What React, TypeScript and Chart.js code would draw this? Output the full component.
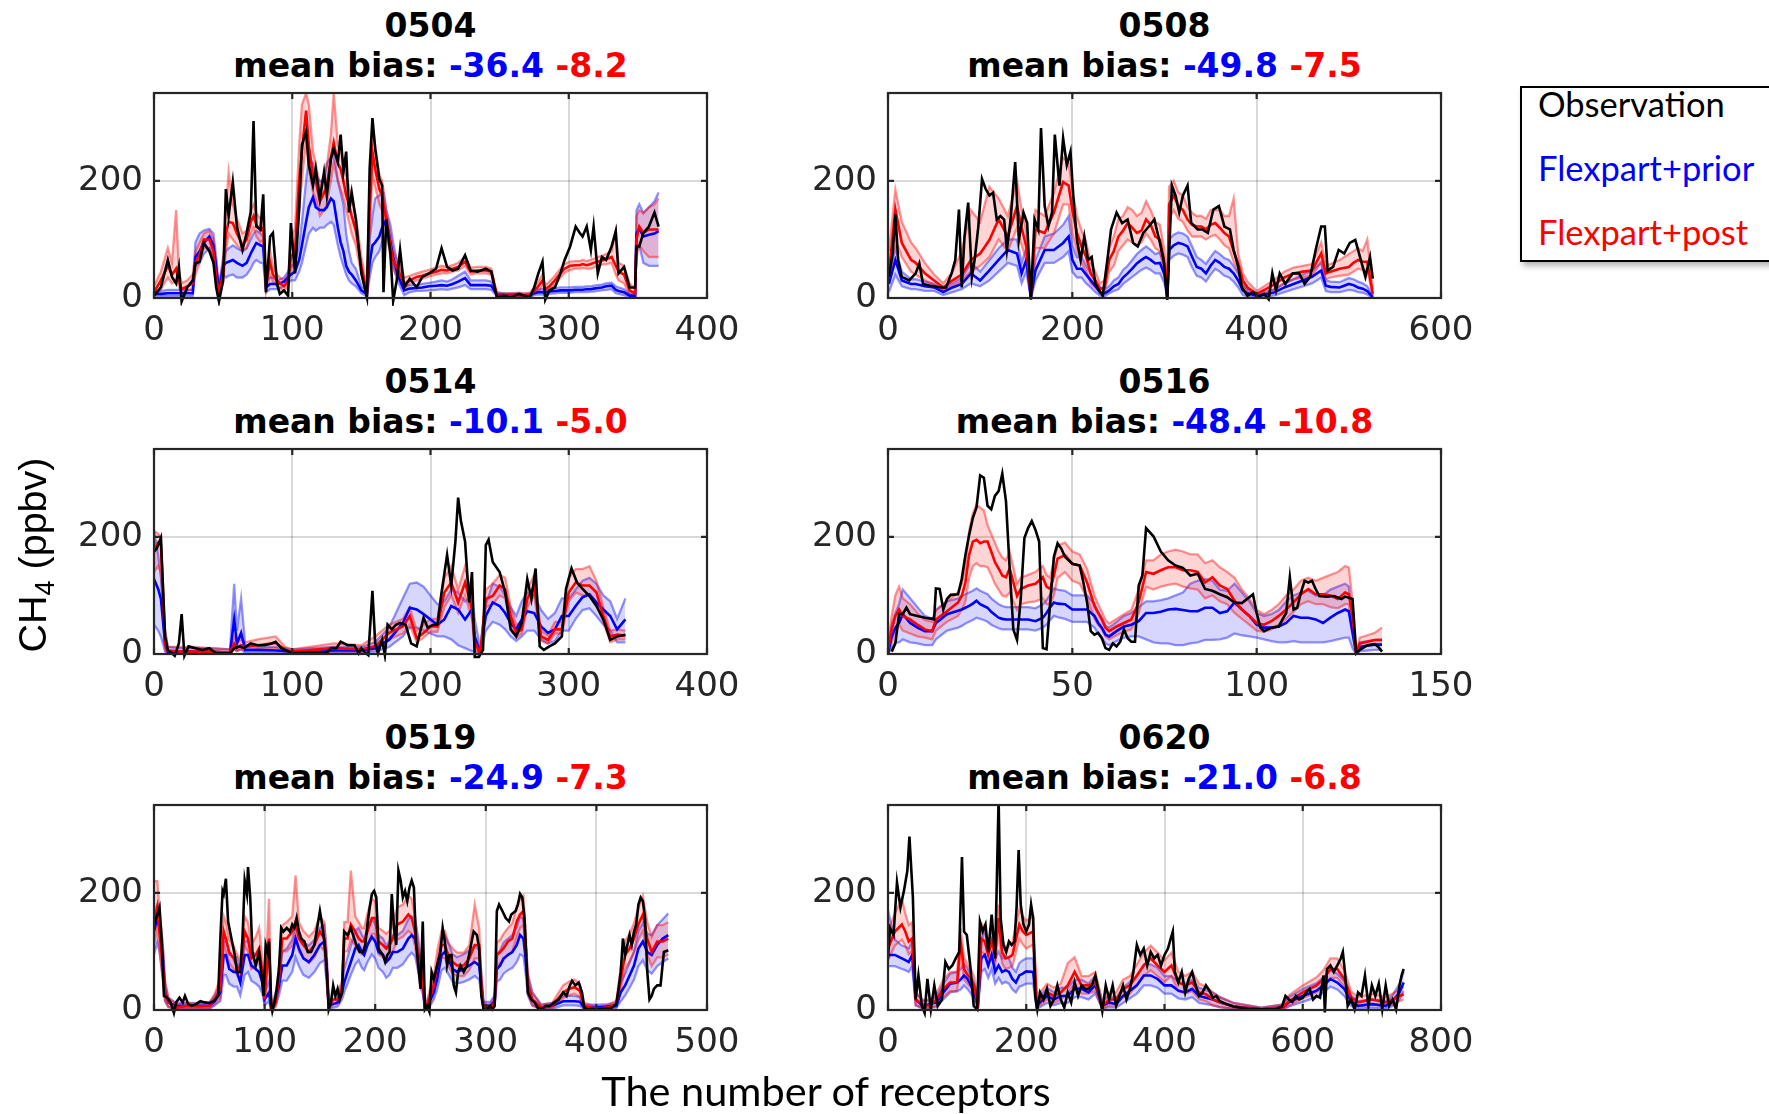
import React, { useEffect, useRef } from 'react';
import { Chart, registerables } from 'chart.js';

Chart.register(...registerables);

const Y_MAX = 350;
const Y_TICKS = [0, 200];

// ---------------- 0504 (observation shares model x) ----------------
const x0504 = [0,5,10,13,16,18,20,24,28,30,33,36,40,43,45,47,50,52,54,57,60,64,67,70,72,74,77,79,81,84,86,89,91,94,97,99,102,105,107,110,112,115,117,120,123,125,128,130,133,135,137,139,141,143,146,150,154,156,158,160,163,165,166,168,171,173,176,178,181,185,190,194,199,204,208,212,216,220,225,229,234,240,244,248,253,258,264,268,272,275,278,281,283,286,290,294,297,301,305,308,310,313,316,318,321,324,327,331,334,336,340,344,348,349,351,354,358,362,365];
const obs0504 = [4,18,65,36,25,53,-6,18,30,59,62,94,80,60,18,-6,30,186,140,198,122,82,111,146,302,122,117,177,10,105,111,24,7,13,4,128,42,151,261,284,227,192,221,169,215,175,238,255,232,279,215,250,146,180,134,42,1,221,307,255,203,192,10,134,76,-5,36,82,18,33,18,36,42,50,85,53,47,50,73,47,45,50,45,1,4,1,7,4,2,18,42,62,-3,13,18,42,65,88,122,111,105,122,82,122,42,70,65,88,114,42,53,18,18,88,88,111,122,146,122];
const prior0504 = [7,7,8,8,8,8,8,8,8,70,80,94,105,90,53,10,55,60,62,65,60,55,60,76,85,94,90,88,18,24,24,24,25,28,35,40,45,65,90,130,155,172,155,150,150,155,170,165,120,95,80,55,45,40,30,13,7,60,90,95,105,120,125,134,95,70,42,30,13,16,17,18,20,21,22,21,24,28,34,22,22,22,21,6,5,5,5,4,5,8,10,10,10,11,12,13,13,13,14,14,14,15,15,16,17,18,20,21,14,12,10,4,4,110,119,105,108,110,114];
const priorLo0504 = [3,3,3,3,3,3,3,3,3,55,60,75,85,70,40,5,40,35,38,40,35,35,40,50,60,65,60,60,10,15,15,15,17,20,25,30,30,45,60,90,110,120,115,120,120,125,130,125,90,70,55,40,30,25,20,8,3,35,60,70,80,95,100,110,80,55,30,20,5,10,12,12,13,14,15,14,16,18,22,15,15,15,14,3,2,2,2,2,2,5,6,6,6,7,8,9,9,9,10,10,10,10,11,11,12,13,14,15,8,7,5,2,2,80,90,60,55,55,55];
const priorHi0504 = [12,12,14,14,14,14,14,14,14,95,110,115,118,110,70,20,70,80,85,90,85,80,85,100,110,115,110,105,30,35,35,30,32,35,45,55,60,90,130,200,240,230,210,200,200,230,240,250,200,180,160,110,80,60,50,20,12,100,140,170,175,180,180,150,125,95,60,45,20,22,22,24,26,28,30,28,32,38,45,30,30,30,28,10,8,8,8,7,8,12,15,15,15,16,17,18,18,18,19,19,19,20,20,21,22,23,25,26,20,18,15,8,8,150,160,145,155,165,180];
const post0504 = [10,30,55,40,50,30,15,20,25,60,75,100,100,80,35,10,40,110,130,128,110,90,100,130,140,125,115,120,24,60,40,30,25,20,30,70,80,200,250,320,260,210,200,165,180,190,240,265,230,220,200,175,160,140,115,55,8,150,250,220,186,175,160,134,90,65,50,40,24,30,36,38,42,45,48,47,50,53,62,45,47,47,45,4,4,4,5,4,5,12,20,30,15,20,30,42,50,55,56,56,58,56,58,60,62,64,66,70,55,45,40,13,8,100,122,111,117,117,117];
const postLo0504 = [5,15,35,25,30,20,8,12,15,40,60,85,85,65,20,3,25,80,110,100,90,80,85,110,120,105,95,100,10,40,28,20,17,12,20,50,60,150,200,270,220,180,170,140,150,160,200,230,200,185,170,150,130,110,90,40,3,110,210,190,160,150,140,115,70,50,35,30,15,25,30,33,37,40,42,42,45,47,55,40,42,42,40,2,2,2,2,2,2,8,12,20,8,15,22,35,43,48,50,50,51,50,50,52,55,57,58,60,40,30,25,5,3,70,90,80,70,70,70];
const postHi0504 = [20,45,85,60,150,45,25,30,40,80,95,110,115,100,50,20,60,150,215,160,135,110,115,150,160,145,135,140,35,80,55,40,35,30,40,100,120,260,330,350,330,250,230,190,210,225,280,350,260,250,235,210,190,170,140,70,15,200,290,260,210,200,185,150,110,80,65,55,35,38,42,45,48,52,55,53,56,60,70,52,53,53,50,8,8,8,9,8,9,18,28,40,22,28,38,50,58,62,63,63,65,63,65,67,70,72,75,80,115,60,55,25,15,140,150,145,155,160,170];

// ---------------- 0508 ----------------
const obs0508 = [[1,36],[5,76],[8,143],[11,65],[15,36],[23,30],[30,42],[34,59],[38,24],[46,21],[58,18],[63,18],[69,42],[73,65],[77,151],[80,18],[83,105],[87,163],[91,36],[94,65],[98,122],[102,203],[106,186],[110,175],[114,180],[118,134],[122,140],[126,134],[129,82],[133,134],[138,232],[142,99],[147,146],[151,128],[155,-3],[159,134],[163,117],[166,290],[170,157],[174,122],[178,146],[181,279],[186,192],[190,273],[194,227],[198,250],[201,175],[205,99],[209,65],[213,105],[217,65],[221,70],[225,24],[229,13],[233,4],[238,65],[242,117],[248,146],[254,128],[260,134],[266,94],[271,88],[277,111],[283,122],[289,134],[295,94],[299,65],[303,-3],[308,192],[312,175],[316,146],[320,175],[325,192],[329,128],[336,117],[341,117],[347,111],[353,151],[359,157],[365,122],[371,117],[375,82],[380,53],[384,18],[390,4],[396,10],[402,2],[408,7],[413,-2],[417,42],[421,13],[425,42],[431,24],[439,42],[446,42],[452,24],[458,36],[464,82],[470,122],[474,122],[477,47],[483,53],[489,82],[495,76],[501,94],[507,99],[513,65],[518,36],[523,70],[526,33]];
const x0508 = [1,8,15,25,30,40,50,60,70,80,90,100,110,120,130,140,145,150,155,160,170,180,190,196,200,205,210,215,220,225,230,235,240,245,250,255,260,265,270,275,280,285,290,295,300,303,305,310,315,320,325,330,335,340,345,350,355,360,365,370,375,380,385,390,400,410,420,430,440,450,460,470,475,480,490,500,505,510,515,520,526];
const prior0508 = [24,65,30,24,24,20,18,10,18,24,42,30,47,65,82,76,42,65,1,47,82,82,94,105,65,50,50,40,30,20,10,8,13,20,24,35,42,50,59,65,70,65,59,60,40,1,82,90,94,92,88,70,53,50,42,55,65,60,53,50,42,30,13,8,4,6,10,18,24,30,36,47,21,19,18,24,22,18,16,12,1];
const priorLo0508 = [10,40,20,15,15,12,12,5,10,15,25,20,30,45,60,55,25,45,0,30,60,60,70,80,45,35,35,25,18,10,4,3,8,12,15,24,30,36,42,48,52,48,42,42,25,0,65,72,76,74,70,52,38,35,28,40,50,45,38,35,28,18,5,3,1,2,5,10,15,20,25,35,12,10,10,14,13,10,9,6,0];
const priorHi0508 = [40,85,45,32,32,28,24,15,25,35,60,45,65,85,100,100,60,85,5,65,105,110,125,140,90,70,70,55,42,30,18,15,20,30,35,48,55,65,75,82,88,82,75,78,55,3,100,108,112,110,105,88,70,65,58,70,80,75,68,65,55,42,22,14,8,10,15,25,32,40,47,60,30,28,27,34,32,28,25,20,4];
const post0508 = [42,151,94,65,60,42,30,18,30,40,65,76,99,134,105,157,120,88,5,117,111,146,198,192,150,111,88,70,42,30,15,18,65,80,105,115,128,120,111,115,134,125,105,100,60,1,160,175,157,150,134,125,122,122,117,125,128,120,111,105,80,59,30,18,7,15,24,35,42,45,47,76,42,45,50,53,60,65,62,62,7];
const postLo0508 = [25,100,70,45,40,30,22,12,20,30,45,55,70,100,80,120,90,65,0,85,85,110,160,160,110,80,60,45,25,18,8,10,45,55,80,90,100,95,90,95,110,100,85,80,45,0,135,150,135,130,115,105,105,105,100,105,108,100,90,85,62,45,20,10,3,8,15,25,32,35,38,62,32,35,38,40,45,50,48,48,3];
const postHi0508 = [80,185,130,95,85,60,40,25,45,80,150,130,190,170,140,200,150,115,10,150,140,180,240,230,185,140,115,95,60,45,25,30,85,105,135,140,155,150,140,145,165,150,130,125,80,3,190,200,180,175,155,145,140,140,135,150,150,150,140,140,170,75,42,28,12,22,32,45,52,55,58,95,55,58,65,75,80,85,80,100,15];

// ---------------- 0514 ----------------
const obs0514 = [[0,175],[2,180],[5,198],[8,30],[10,7],[15,-3],[18,18],[20,68],[22,-3],[25,13],[30,10],[35,7],[40,10],[45,1],[50,1],[55,1],[58,10],[62,13],[65,10],[70,18],[75,15],[80,15],[85,18],[88,21],[92,10],[95,7],[100,1],[110,2],[120,2],[125,2],[128,10],[132,10],[135,21],[140,15],[145,15],[148,1],[150,10],[152,4],[155,-2],[158,108],[160,18],[162,1],[165,24],[167,-2],[169,50],[172,42],[175,50],[178,53],[182,50],[186,18],[190,13],[195,62],[198,45],[202,50],[205,50],[208,105],[212,169],[215,117],[218,192],[220,267],[222,227],[225,192],[228,88],[230,140],[232,-5],[235,-5],[238,7],[240,186],[242,195],[245,157],[250,140],[254,105],[258,42],[262,30],[266,53],[270,128],[273,94],[276,146],[279,13],[282,7],[286,13],[290,18],[295,30],[298,111],[302,146],[306,122],[310,111],[315,99],[320,82],[325,59],[330,24],[335,30],[341,33]];
const x0514 = [0,3,5,8,10,20,30,40,55,58,60,63,66,75,88,95,100,130,150,160,170,180,185,190,195,200,205,210,215,220,225,230,232,236,240,245,250,254,258,262,266,270,275,280,285,290,295,300,305,310,315,320,325,330,335,341];
const prior0514 = [128,111,94,18,4,4,4,4,2,59,18,36,7,7,6,5,4,6,6,10,24,53,79,76,68,59,50,59,82,76,59,76,30,2,65,88,82,70,53,42,59,73,70,47,36,42,65,65,82,97,102,88,76,65,42,59];
const priorLo0514 = [50,40,30,5,1,1,1,1,0,10,5,8,2,3,2,2,1,2,2,4,12,30,45,45,40,35,30,30,25,15,10,5,5,0,40,55,50,42,30,22,30,40,40,25,18,22,40,40,60,75,78,65,50,40,20,20];
const priorHi0514 = [210,170,130,40,12,10,10,10,8,120,40,95,15,12,12,10,8,12,12,20,45,95,120,122,115,100,85,90,110,105,90,100,60,10,85,120,115,100,80,65,90,105,100,75,60,70,95,95,110,125,130,120,100,90,60,95];
const post0514 = [175,190,186,18,6,4,4,4,3,18,10,15,12,15,19,7,4,10,8,13,36,47,65,27,36,47,47,105,122,88,122,76,20,1,94,99,117,111,65,36,42,94,117,30,24,42,42,105,122,117,117,105,65,30,33,31];
const postLo0514 = [140,150,140,5,2,1,1,1,1,8,5,8,5,8,10,3,1,5,4,8,25,35,50,20,28,38,38,80,100,70,100,60,10,0,80,85,100,95,55,28,35,80,100,22,18,35,35,90,105,100,100,88,55,20,25,25];
const postHi0514 = [210,205,200,40,12,12,12,10,8,30,20,25,20,25,30,12,8,18,15,30,50,60,80,40,50,60,60,130,150,110,150,95,30,5,110,120,135,130,80,50,55,110,135,40,32,55,55,130,145,145,150,125,80,40,42,40];

// ---------------- 0516 ----------------
const obs0516 = [[1,4],[2,18],[3,68],[4,68],[5,79],[6,68],[8,65],[10,62],[12,60],[12.5,59],[13,112],[14,111],[15,76],[16,94],[17,101],[19,102],[20,128],[21,169],[22,203],[23,232],[24,250],[25,305],[26,301],[27,253],[28,247],[29,270],[30,278],[31,308],[32,261],[33,146],[34,42],[35,24],[36,94],[37,198],[38,215],[39,227],[40,212],[41,192],[42,10],[43,8],[44,88],[45,166],[46,189],[47,180],[48,166],[50,154],[52,151],[53,122],[54,88],[55,39],[56,33],[57,36],[58,27],[59,10],[60,7],[61,18],[62,13],[63,21],[64,42],[65,27],[66,21],[67,21],[68,117],[69,134],[70,215],[72,201],[74,175],[76,160],[78,151],[80,147],[82,134],[84,137],[86,111],[88,108],[90,102],[92,97],[94,88],[96,87],[98,97],[99,102],[100,70],[101,45],[102,39],[104,45],[106,47],[107,59],[108,70],[109,131],[110,76],[111,79],[112,105],[113,125],[114,122],[115,125],[116,111],[117,99],[119,98],[121,99],[123,94],[124,98],[126,94],[127,1],[128,7],[130,15],[132,17],[133,12],[134,4]];
const x0516 = [0,1,2,3,4,6,8,10,12,13,16,19,20,21,22,23,24,25,26,27,28,29,30,31,32,33,35,36,38,40,42,43,44,45,46,48,50,52,54,56,57,58,59,60,62,64,66,68,70,72,74,76,78,80,82,84,86,88,90,92,94,96,98,100,102,104,106,108,110,112,114,116,118,120,122,124,125,126,127,128,130,132,134];
const prior0516 = [1,30,45,53,68,53,45,39,39,53,68,74,76,79,82,86,91,85,82,79,72,67,62,60,59,59,59,59,59,56,62,70,80,88,86,85,76,76,76,65,53,45,33,30,39,47,50,56,70,70,72,76,77,75,73,73,79,79,70,73,88,76,65,50,45,45,47,53,65,62,62,59,53,62,70,76,73,36,1,12,14,16,16];
const priorLo0516 = [0,10,20,20,25,20,18,15,15,25,40,45,48,52,55,58,62,60,58,55,50,47,44,42,42,42,42,42,42,40,45,50,58,65,63,60,55,55,55,45,35,28,18,15,22,28,30,30,25,20,18,18,15,15,18,20,24,24,25,28,35,32,30,28,25,22,20,20,22,20,20,20,20,22,25,28,28,10,0,5,6,7,7];
const priorHi0516 = [5,50,70,85,110,95,80,65,60,75,90,95,100,102,105,108,112,108,105,102,95,90,85,82,80,80,80,80,80,78,85,92,102,112,110,108,100,100,100,85,72,62,48,45,55,65,70,80,90,90,92,95,100,105,120,125,128,125,110,108,120,105,90,70,65,68,75,90,100,105,108,100,100,110,115,120,115,60,5,20,22,24,25];
const post0516 = [7,42,65,76,65,59,50,42,39,59,73,88,99,122,169,192,195,189,192,192,175,157,146,134,131,146,99,111,117,120,131,115,111,134,163,169,154,151,122,82,70,59,45,39,47,53,59,88,140,137,143,148,148,143,143,140,122,131,117,111,91,76,65,53,50,56,65,76,88,102,111,102,102,100,94,105,102,65,1,18,21,24,24];
const postLo0516 = [0,20,40,50,40,35,30,28,25,40,55,65,75,90,130,150,155,150,150,148,135,120,110,100,98,105,75,85,88,90,95,85,85,100,130,140,125,120,95,60,50,42,30,25,32,38,42,70,115,110,115,118,120,115,112,110,95,100,90,85,70,60,50,40,38,42,50,60,72,85,90,85,85,80,78,85,85,40,0,10,14,16,16];
const postHi0516 = [15,65,100,115,95,85,70,58,55,75,90,105,120,150,210,240,255,250,245,220,205,190,175,165,160,175,120,130,135,140,150,135,130,160,185,190,175,170,145,100,85,72,58,52,60,68,75,110,160,160,170,175,178,175,170,170,155,160,148,140,130,110,95,75,68,75,85,100,110,125,130,125,130,135,140,150,148,90,5,28,32,36,45];

// ---------------- 0519 ----------------
const obs0519 = [[0,146],[3,163],[5,175],[7,117],[9,24],[12,21],[15,13],[18,-5],[20,13],[23,21],[26,13],[28,24],[31,10],[34,7],[38,10],[42,15],[46,13],[50,12],[54,15],[58,24],[60,122],[62,203],[63,198],[65,224],[67,151],[70,122],[73,94],[75,65],[78,65],[80,122],[82,221],[84,198],[85,244],[87,192],[89,99],[92,76],[95,99],[97,65],[99,24],[101,111],[103,97],[104,117],[106,10],[107,-2],[109,13],[111,36],[113,70],[115,140],[117,134],[120,140],[123,134],[125,146],[127,140],[129,157],[131,134],[133,122],[136,117],[139,99],[142,99],[145,111],[148,146],[150,169],[152,146],[154,117],[156,76],[158,1],[160,13],[162,42],[164,24],[166,36],[168,18],[170,30],[172,134],[175,128],[178,140],[180,128],[183,111],[186,99],[189,99],[191,111],[193,146],[195,175],[197,198],[199,203],[201,192],[203,105],[205,99],[207,94],[209,82],[211,94],[213,99],[215,198],[217,140],[219,111],[221,238],[223,221],[225,192],[227,203],[229,186],[231,209],[233,221],[235,209],[237,111],[239,76],[241,36],[243,151],[245,1],[247,7],[249,-3],[251,65],[253,53],[256,76],[259,99],[261,140],[263,117],[265,76],[267,94],[269,94],[271,42],[273,30],[275,65],[277,76],[280,65],[283,76],[286,105],[289,134],[292,128],[294,105],[296,24],[298,1],[301,1],[304,7],[306,1],[308,7],[310,169],[312,180],[315,169],[318,157],[321,151],[323,163],[325,166],[327,169],[329,180],[331,198],[333,192],[335,157],[338,30],[341,18],[344,13],[347,4],[350,1],[354,7],[358,7],[362,13],[366,18],[370,30],[373,24],[376,42],[378,50],[381,42],[384,47],[387,30],[389,4],[392,1],[396,2],[400,1],[405,2],[410,2],[414,4],[418,10],[420,36],[422,65],[424,122],[426,94],[428,111],[430,128],[432,111],[434,134],[436,146],[438,180],[440,192],[442,186],[444,157],[446,65],[448,18],[450,24],[452,36],[455,42],[458,42],[461,99],[465,102]];
const x0519 = [0,3,5,8,10,13,20,30,40,50,55,60,63,65,68,72,75,78,82,85,88,92,95,98,100,104,106,110,113,116,120,125,128,131,135,140,145,150,154,156,158,162,166,170,172,175,178,182,185,188,190,193,197,200,203,207,210,213,216,220,225,230,233,236,239,241,243,245,250,253,256,260,263,266,270,274,280,285,290,294,296,298,304,308,310,313,316,320,324,328,331,334,336,338,342,350,360,370,375,380,385,389,400,410,418,422,426,430,434,438,442,446,450,455,460,465];
const prior0519 = [134,157,140,88,30,13,7,7,7,7,15,30,94,94,70,65,65,47,94,94,76,70,65,47,18,30,1,18,42,76,76,94,122,105,88,82,94,111,117,76,7,10,13,30,47,65,82,105,111,99,94,111,125,117,99,94,82,88,99,99,105,122,128,122,94,59,47,1,18,30,53,94,99,88,70,65,70,76,82,76,42,7,7,15,70,76,88,94,99,111,128,122,88,42,18,4,7,15,15,15,14,4,4,6,7,30,42,59,76,105,117,99,94,111,122,128];
const priorLo0519 = [95,115,100,55,15,5,2,2,2,2,8,15,60,60,45,40,40,25,60,65,50,45,40,28,8,15,0,8,25,50,50,65,90,75,60,55,65,80,85,50,2,4,6,18,30,45,60,78,85,72,68,82,95,88,72,65,55,60,72,72,78,92,98,92,65,38,28,0,8,18,35,68,72,62,48,45,48,52,58,52,25,2,2,7,48,52,62,68,72,82,95,92,62,25,8,1,2,8,8,8,7,1,1,2,3,15,25,38,52,75,85,68,62,75,82,88];
const priorHi0519 = [165,180,165,110,45,20,12,12,12,12,25,45,115,120,95,90,90,70,115,120,100,95,90,68,30,50,5,30,60,100,105,120,150,135,115,110,120,140,145,100,15,18,22,45,70,90,110,135,140,128,122,140,155,148,128,122,110,118,128,128,135,155,160,155,122,85,70,5,30,45,75,122,128,115,95,90,95,102,110,102,62,14,14,25,95,102,115,122,128,142,160,155,115,62,30,9,12,24,24,24,22,9,9,10,12,48,62,82,100,135,148,130,128,145,155,165];
const post0519 = [146,175,134,76,30,13,4,7,6,7,18,36,134,122,99,88,76,65,134,122,88,94,105,65,18,122,1,13,53,122,122,134,151,122,111,99,111,134,122,76,4,18,18,36,122,122,146,134,122,117,117,134,157,157,117,111,105,111,122,146,151,163,157,134,88,65,53,1,24,42,76,111,111,94,82,76,76,88,111,111,42,4,4,13,94,99,105,117,122,151,163,169,111,42,18,4,7,30,36,39,33,7,2,4,10,53,94,105,122,146,163,122,99,117,117,122];
const postLo0519 = [110,140,100,50,15,5,1,2,2,2,10,20,110,100,80,70,60,48,110,100,70,75,85,48,8,95,0,5,35,100,100,110,130,100,90,80,90,110,100,55,1,10,10,25,100,100,120,110,100,95,95,110,130,130,95,90,85,90,100,120,125,135,130,110,68,48,38,0,12,28,55,90,88,75,62,58,58,68,88,88,28,1,1,5,75,80,85,95,100,125,140,145,90,28,8,1,3,20,25,28,22,3,0,1,5,35,70,82,98,120,135,95,75,90,90,95];
const postHi0519 = [220,220,170,110,50,22,10,12,10,12,28,55,160,150,120,110,95,85,160,150,110,125,140,85,30,190,5,25,75,145,150,160,230,150,135,125,135,160,150,100,10,28,28,50,150,150,238,160,150,140,140,165,190,185,140,135,130,135,150,175,180,195,190,160,110,85,72,5,38,58,100,135,135,115,105,98,98,110,180,140,58,10,10,22,115,120,130,140,148,178,190,195,135,58,30,9,12,42,48,52,45,12,6,8,16,72,118,130,148,175,195,150,125,145,145,150];

// ---------------- 0620 ----------------
const obs0620 = [[0,88],[3,140],[8,128],[13,218],[18,175],[23,203],[28,238],[31,296],[36,192],[40,18],[44,59],[49,7],[53,-5],[57,53],[62,1],[67,42],[72,7],[78,18],[83,82],[88,70],[93,76],[98,88],[103,99],[107,261],[110,134],[114,128],[119,76],[124,7],[129,1],[133,151],[137,134],[141,146],[145,99],[150,163],[155,88],[160,360],[163,157],[167,111],[171,99],[175,117],[179,111],[183,117],[186,175],[189,273],[192,180],[196,146],[200,134],[204,146],[207,180],[210,157],[213,24],[216,1],[220,30],[225,18],[230,36],[235,7],[240,18],[245,42],[250,18],[255,4],[260,30],[265,13],[270,47],[275,24],[280,42],[285,36],[290,36],[295,42],[300,59],[305,30],[310,-2],[315,42],[320,18],[325,42],[330,7],[335,24],[340,42],[345,18],[350,36],[355,65],[360,111],[365,94],[370,105],[375,76],[380,99],[385,88],[390,94],[395,76],[400,94],[405,105],[409,122],[412,134],[415,65],[420,47],[425,65],[430,30],[435,53],[440,65],[445,42],[450,24],[455,30],[460,42],[465,33],[470,21],[475,24],[480,15],[490,10],[500,6],[520,2],[540,1],[560,1],[570,6],[575,24],[580,18],[585,14],[590,24],[595,18],[600,21],[605,30],[610,36],[615,18],[620,24],[625,21],[630,59],[632,-4],[635,70],[640,76],[645,65],[650,76],[655,88],[658,99],[661,65],[665,7],[670,18],[675,1],[680,30],[685,24],[690,59],[695,7],[700,42],[705,24],[710,45],[715,1],[720,42],[725,7],[730,18],[735,1],[740,42],[743,59],[746,70]];
const x0620 = [0,10,20,25,30,35,40,50,60,70,80,90,100,105,110,115,120,125,130,135,140,145,150,155,160,165,170,175,180,185,190,195,200,210,215,220,230,240,250,260,270,280,290,300,310,320,330,340,350,360,370,380,390,400,410,420,430,440,450,460,470,480,500,540,570,580,600,620,630,640,650,660,670,680,700,720,730,740,746];
const prior0620 = [94,94,88,85,82,94,18,7,10,13,30,45,47,52,59,53,42,30,7,88,94,76,94,65,76,65,68,65,53,47,59,62,66,65,7,13,24,18,24,24,36,36,30,42,7,13,10,24,33,42,59,59,53,42,42,33,30,36,24,21,18,13,6,1,4,13,24,33,42,53,47,36,15,7,10,7,15,30,47];
const priorLo0620 = [75,75,70,68,65,75,8,2,4,5,18,30,32,35,42,36,28,18,2,65,70,55,70,45,55,45,48,45,35,30,40,42,45,45,2,5,12,8,12,12,22,22,18,28,2,5,4,12,20,28,42,42,38,28,28,20,18,22,12,10,8,5,2,0,1,6,14,22,30,40,35,24,7,2,4,2,7,18,32];
const priorHi0620 = [170,120,110,108,105,118,30,15,18,22,45,62,65,70,78,72,58,45,15,115,140,100,122,88,100,88,92,88,72,65,80,85,88,88,15,24,38,30,38,38,52,52,45,58,15,24,20,38,48,58,78,78,72,58,58,48,45,52,38,34,30,22,12,4,9,22,36,46,56,68,62,50,25,15,18,15,25,45,65];
const post0620 = [105,134,146,134,117,122,18,10,7,18,36,47,47,117,70,60,53,40,7,122,117,94,117,94,157,99,88,90,94,120,146,134,128,134,18,18,30,24,30,42,65,42,42,47,7,18,18,36,42,59,76,88,76,65,76,47,42,47,30,27,18,13,6,1,4,15,30,42,53,70,70,53,21,13,18,13,18,24,27];
const postLo0620 = [85,110,120,110,95,100,8,4,2,8,22,32,32,95,52,45,38,25,2,100,95,75,95,75,130,80,70,72,75,98,122,112,105,112,8,8,18,12,18,28,45,28,28,32,2,8,8,22,28,42,58,68,58,48,58,32,28,32,18,15,8,5,2,0,1,7,20,30,40,55,55,40,12,6,10,6,10,15,18];
const postHi0620 = [135,165,190,165,145,150,30,18,15,28,52,65,65,140,90,78,70,55,15,148,140,115,140,115,180,120,108,110,115,145,172,160,152,160,30,30,45,38,45,80,90,58,58,65,15,30,30,52,58,78,98,110,98,85,98,65,58,65,45,40,30,22,12,4,9,25,42,56,68,88,88,68,32,22,28,22,28,35,40];

// ---------------- layout ----------------
const COL_LEFT = [154, 888];
const ROW_TOP = [93, 449, 805];
const PW = 553;
const PH = 205;
const AXW = 110;
const PAD_T = 10;
const PAD_R = 60;
const AXH = 58;

const TICK_FONT = { family: 'DejaVu Sans', size: 34 };
const TICK_COLOR = '#262626';
const GRID_COLOR = 'rgba(0,0,0,0.15)';

type PanelCfg = {
  name: string; biasPrior: string; biasPost: string; xMax: number; xTicks: number[];
  col: number; row: number; obs: number[][]; mx: number[];
  prior: number[]; priorLo: number[]; priorHi: number[];
  post: number[]; postLo: number[]; postHi: number[];
};

const PANELS: PanelCfg[] = [
  { name: '0504', biasPrior: '-36.4', biasPost: '-8.2', xMax: 400, xTicks: [0, 100, 200, 300, 400], col: 0, row: 0,
    obs: x0504.map((x, i) => [x, obs0504[i]]), mx: x0504, prior: prior0504, priorLo: priorLo0504, priorHi: priorHi0504, post: post0504, postLo: postLo0504, postHi: postHi0504 },
  { name: '0508', biasPrior: '-49.8', biasPost: '-7.5', xMax: 600, xTicks: [0, 200, 400, 600], col: 1, row: 0,
    obs: obs0508, mx: x0508, prior: prior0508, priorLo: priorLo0508, priorHi: priorHi0508, post: post0508, postLo: postLo0508, postHi: postHi0508 },
  { name: '0514', biasPrior: '-10.1', biasPost: '-5.0', xMax: 400, xTicks: [0, 100, 200, 300, 400], col: 0, row: 1,
    obs: obs0514, mx: x0514, prior: prior0514, priorLo: priorLo0514, priorHi: priorHi0514, post: post0514, postLo: postLo0514, postHi: postHi0514 },
  { name: '0516', biasPrior: '-48.4', biasPost: '-10.8', xMax: 150, xTicks: [0, 50, 100, 150], col: 1, row: 1,
    obs: obs0516, mx: x0516, prior: prior0516, priorLo: priorLo0516, priorHi: priorHi0516, post: post0516, postLo: postLo0516, postHi: postHi0516 },
  { name: '0519', biasPrior: '-24.9', biasPost: '-7.3', xMax: 500, xTicks: [0, 100, 200, 300, 400, 500], col: 0, row: 2,
    obs: obs0519, mx: x0519, prior: prior0519, priorLo: priorLo0519, priorHi: priorHi0519, post: post0519, postLo: postLo0519, postHi: postHi0519 },
  { name: '0620', biasPrior: '-21.0', biasPost: '-6.8', xMax: 800, xTicks: [0, 200, 400, 600, 800], col: 1, row: 2,
    obs: obs0620, mx: x0620, prior: prior0620, priorLo: priorLo0620, priorHi: priorHi0620, post: post0620, postLo: postLo0620, postHi: postHi0620 },
];

const framePlugin = {
  id: 'matlabFrame',
  afterDatasetsDraw(chart: any) {
    const { ctx, chartArea: a, scales } = chart;
    ctx.save();
    ctx.strokeStyle = '#262626';
    ctx.lineWidth = 2.2;
    ctx.strokeRect(a.left, a.top, a.right - a.left, a.bottom - a.top);
    const tl = 6;
    ctx.beginPath();
    scales.x.ticks.forEach((t: any) => {
      const p = scales.x.getPixelForValue(t.value);
      ctx.moveTo(p, a.bottom); ctx.lineTo(p, a.bottom - tl);
      ctx.moveTo(p, a.top); ctx.lineTo(p, a.top + tl);
    });
    scales.y.ticks.forEach((t: any) => {
      const p = scales.y.getPixelForValue(t.value);
      ctx.moveTo(a.left, p); ctx.lineTo(a.left + tl, p);
      ctx.moveTo(a.right, p); ctx.lineTo(a.right - tl, p);
    });
    ctx.stroke();
    ctx.restore();
  },
};

const pts = (xs: number[], ys: number[]) => xs.map((x, i) => ({ x, y: ys[i] }));

function Panel({ cfg }: { cfg: PanelCfg }) {
  const ref = useRef<HTMLCanvasElement>(null);
  const W = AXW + PW + PAD_R;
  const H = PAD_T + PH + AXH;
  const left = COL_LEFT[cfg.col] - AXW;
  const top = ROW_TOP[cfg.row] - PAD_T;

  useEffect(() => {
    const line = { pointRadius: 0, pointHoverRadius: 0, tension: 0 };
    const chart = new Chart(ref.current as HTMLCanvasElement, {
      type: 'line',
      data: {
        datasets: [
          { label: 'Observation', data: cfg.obs.map(([x, y]) => ({ x, y })), borderColor: '#000000', borderWidth: 2.6, fill: false, clip: { left: 0, top: 0, right: 0, bottom: 8 }, ...line },
          { label: 'Flexpart+post', data: pts(cfg.mx, cfg.post), borderColor: '#ff0000', borderWidth: 2.6, fill: false, ...line },
          { label: 'Flexpart+prior', data: pts(cfg.mx, cfg.prior), borderColor: '#0000ff', borderWidth: 2.6, fill: false, ...line },
          { label: 'post upper', data: pts(cfg.mx, cfg.postHi), borderColor: 'rgba(255,0,0,0.42)', borderWidth: 2.3, fill: { target: 4 }, backgroundColor: 'rgba(255,0,0,0.17)', ...line },
          { label: 'post lower', data: pts(cfg.mx, cfg.postLo), borderColor: 'rgba(255,0,0,0.42)', borderWidth: 2.3, fill: false, ...line },
          { label: 'prior upper', data: pts(cfg.mx, cfg.priorHi), borderColor: 'rgba(0,0,255,0.42)', borderWidth: 2.3, fill: { target: 6 }, backgroundColor: 'rgba(0,0,255,0.16)', ...line },
          { label: 'prior lower', data: pts(cfg.mx, cfg.priorLo), borderColor: 'rgba(0,0,255,0.42)', borderWidth: 2.3, fill: false, ...line },
        ],
      },
      options: {
        responsive: false,
        animation: false,
        events: [],
        layout: { padding: { left: 0, top: PAD_T, right: PAD_R, bottom: 0 } },
        plugins: { legend: { display: false }, tooltip: { enabled: false }, title: { display: false } },
        scales: {
          x: {
            type: 'linear', min: 0, max: cfg.xMax,
            afterBuildTicks: (s: any) => { s.ticks = cfg.xTicks.map((v) => ({ value: v })); },
            afterFit: (s: any) => { s.height = AXH; s.paddingLeft = 0; s.paddingRight = 0; },
            grid: { color: GRID_COLOR, lineWidth: 2, drawTicks: false },
            border: { display: false },
            ticks: { font: TICK_FONT, color: TICK_COLOR, padding: 13, maxRotation: 0, autoSkip: false },
          },
          y: {
            type: 'linear', min: 0, max: Y_MAX,
            afterBuildTicks: (s: any) => { s.ticks = Y_TICKS.map((v) => ({ value: v })); },
            afterFit: (s: any) => { s.width = AXW; s.paddingTop = 0; s.paddingBottom = 0; },
            grid: { color: GRID_COLOR, lineWidth: 2, drawTicks: false },
            border: { display: false },
            ticks: { font: TICK_FONT, color: TICK_COLOR, padding: 11 },
          },
        },
      },
      plugins: [framePlugin],
    } as any);
    return () => chart.destroy();
  }, [cfg]);

  const cx = COL_LEFT[cfg.col] + PW / 2;
  const titleStyle: React.CSSProperties = {
    position: 'absolute', left: cx - 300, width: 600, textAlign: 'center',
    fontFamily: '"DejaVu Sans", sans-serif', fontWeight: 'bold', fontSize: 33, lineHeight: '36px',
    color: '#000', whiteSpace: 'pre',
  };
  return (
    <>
      <div style={{ ...titleStyle, top: ROW_TOP[cfg.row] - 85 }}>{cfg.name}</div>
      <div style={{ ...titleStyle, top: ROW_TOP[cfg.row] - 45 }}>
        {'mean bias: '}
        <span style={{ color: '#0000ff' }}>{cfg.biasPrior}</span>
        {' '}
        <span style={{ color: '#ff0000' }}>{cfg.biasPost}</span>
      </div>
      <canvas ref={ref} width={W} height={H} style={{ position: 'absolute', left, top, width: W, height: H }} />
    </>
  );
}

export default function App() {
  const legendLine: React.CSSProperties = {
    position: 'absolute', left: 1538, fontFamily: 'Lato, "Open Sans", sans-serif', fontSize: 34.5,
    lineHeight: '40px', height: 40, whiteSpace: 'nowrap',
  };
  return (
    <div style={{ position: 'absolute', left: 0, top: 0, width: 1769, height: 1114, background: '#ffffff', overflow: 'hidden' }}>
      {PANELS.map((p) => <Panel key={p.name} cfg={p} />)}
      <div style={{
        position: 'absolute', left: 32 - 170, top: 555 - 24, width: 340, height: 48, lineHeight: '48px',
        transform: 'rotate(-90deg)', textAlign: 'center', fontFamily: '"Liberation Sans", Arial, sans-serif',
        fontSize: 39.5, color: '#000', whiteSpace: 'nowrap',
      }}>
        CH<sub style={{ fontSize: '0.68em', verticalAlign: '-0.3em', lineHeight: 0 }}>4</sub> (ppbv)
      </div>
      <div style={{
        position: 'absolute', left: 826 - 300, width: 600, top: 1066, height: 48, lineHeight: '48px',
        textAlign: 'center', fontFamily: 'Lato, "Open Sans", sans-serif', fontSize: 41.5, color: '#000', whiteSpace: 'nowrap',
      }}>
        The number of receptors
      </div>
      <div style={{
        position: 'absolute', left: 1520, top: 86, width: 300, height: 176, boxSizing: 'border-box',
        border: '2px solid #000', background: '#fff', boxShadow: '3px 4px 6px rgba(0,0,0,0.3)',
      }} />
      <div style={{ ...legendLine, top: 84, color: '#000' }}>Observation</div>
      <div style={{ ...legendLine, top: 148, color: '#0000ff' }}>Flexpart+prior</div>
      <div style={{ ...legendLine, top: 212, color: '#ff0000' }}>Flexpart+post</div>
    </div>
  );
}
